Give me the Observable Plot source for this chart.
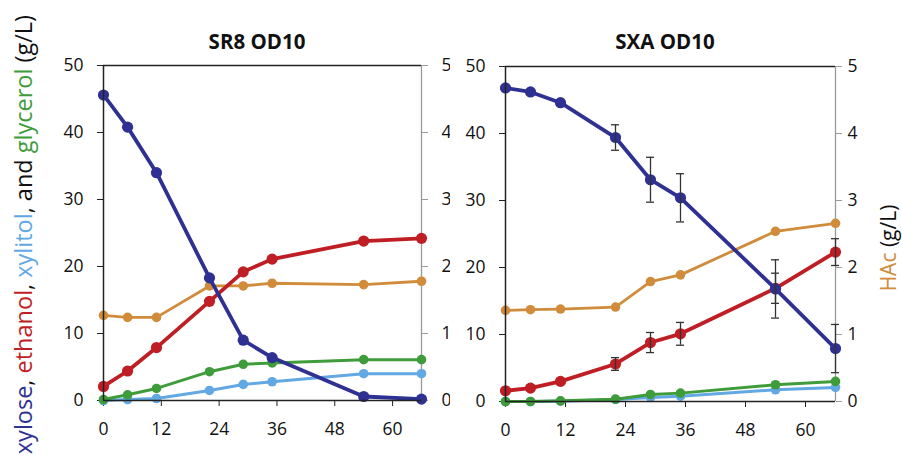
<!DOCTYPE html>
<html><head><meta charset="utf-8">
<script src="https://cdn.jsdelivr.net/npm/d3@7"></script>
<script src="https://cdn.jsdelivr.net/npm/@observablehq/plot@0.6"></script>
<style>
body{margin:0;background:#fff;}
#wrap{position:relative;width:902px;height:454px;overflow:hidden;background:#fff;}
.panel{position:absolute;top:0;}
</style>
</head><body><div id="wrap"></div>
<script>
// time points (h)
const hours = [0, 5, 11, 22, 29, 35, 54, 66];
const xTicks = [0, 12, 24, 36, 48, 60];
const yTicks = [0, 10, 20, 30, 40, 50];
const hacTicks = [0, 1, 2, 3, 4, 5];

// SR8 OD10 (g/L)
const sr8Xylose   = [45.6, 40.8, 34.0, 18.3, 9.0, 6.4, 0.6, 0.2];
const sr8Ethanol  = [2.1, 4.4, 7.9, 14.8, 19.2, 21.1, 23.8, 24.2];
const sr8Xylitol  = [0.0, 0.15, 0.3, 1.5, 2.4, 2.8, 4.0, 4.0];
const sr8Glycerol = [0.15, 0.85, 1.8, 4.3, 5.4, 5.6, 6.1, 6.1];
const sr8HAc      = [1.27, 1.24, 1.24, 1.71, 1.71, 1.75, 1.73, 1.78];

// SXA OD10 (g/L)
const sxaXylose   = [46.8, 46.2, 44.6, 39.4, 33.1, 30.4, 16.8, 7.9];
const sxaXyloseErr= [0, 0, 0, 1.9, 3.35, 3.6, 4.35, 3.6];
const sxaEthanol  = [1.6, 2.0, 3.0, 5.6, 8.8, 10.1, 16.9, 22.3];
const sxaEthanolErr=[0, 0, 0, 0.95, 1.5, 1.7, 2.25, 2.0];
const sxaXylitol  = [0.0, 0.0, 0.05, 0.3, 0.6, 0.8, 1.75, 2.1];
const sxaGlycerol = [0.0, 0.0, 0.1, 0.35, 1.05, 1.25, 2.5, 3.0];
const sxaHAc      = [1.36, 1.37, 1.38, 1.41, 1.79, 1.89, 2.54, 2.66];

const C = {xylose:"#2E3192", ethanol:"#BE1E24", xylitol:"#62A8E2", glycerol:"#3F9C3A", hac:"#D08C3A"};
const FONT = "'Open Sans', sans-serif";

function rows(vals, scale = 1, err = null) {
  return hours.map((t, i) => ({t, v: vals[i] * scale, e: err ? err[i] : 0}));
}

function makePanel(cfg) {
  const series = [
    {data: rows(cfg.hac, 10), color: C.hac, w: 2.8, r: 4.8},
    {data: rows(cfg.xylitol), color: C.xylitol, w: 3, r: 4.8},
    {data: rows(cfg.glycerol), color: C.glycerol, w: 3, r: 4.8},
    {data: rows(cfg.ethanol), color: C.ethanol, w: 3.8, r: 5.6},
    {data: rows(cfg.xylose), color: C.xylose, w: 3.8, r: 5.6}
  ];
  const errRows = [];
  if (cfg.xyloseErr) errRows.push(...rows(cfg.xylose, 1, cfg.xyloseErr).filter(d => d.e > 0));
  if (cfg.ethanolErr) errRows.push(...rows(cfg.ethanol, 1, cfg.ethanolErr).filter(d => d.e > 0));

  const marks = [
    Plot.ruleX([66], {stroke: "#9a9a9a", strokeWidth: 1.3}),
    Plot.ruleY([50], {stroke: "#222", strokeWidth: 1.3}),
    Plot.axisY({anchor: "left", ticks: yTicks, tickSize: 6, tickPadding: cfg.padL, stroke: "#222", fill: "#111", label: null, fontSize: 17.5}),
    Plot.axisY({anchor: "right", ticks: yTicks, tickSize: 6, tickPadding: cfg.padR, stroke: "#9a9a9a", fill: "#111", label: null, fontSize: 17.5, tickFormat: (d) => String(hacTicks[yTicks.indexOf(d)])}),
    Plot.axisX({ticks: xTicks, tickSize: 6, tickPadding: 16, stroke: "#222", fill: "#111", label: null, fontSize: 17.5}),
  ];
  for (const s of series) {
    marks.push(Plot.line(s.data, {x: "t", y: "v", stroke: s.color, strokeWidth: s.w, strokeLinejoin: "round"}));
    marks.push(Plot.dot(s.data, {x: "t", y: "v", r: s.r, fill: s.color, stroke: "none"}));
  }
  marks.push(
    Plot.ruleX(errRows, {x: "t", y1: d => d.v - d.e, y2: d => d.v + d.e, stroke: "#333", strokeWidth: 1.3}),
    Plot.ruleY(errRows, {y: d => d.v + d.e, x1: d => d.t - 0.8, x2: d => d.t + 0.8, stroke: "#333", strokeWidth: 1.3}),
    Plot.ruleY(errRows, {y: d => d.v - d.e, x1: d => d.t - 0.8, x2: d => d.t + 0.8, stroke: "#333", strokeWidth: 1.3}),
    Plot.ruleX([0], {stroke: "#222", strokeWidth: 1.5}),
    Plot.ruleY([0], {stroke: "#222", strokeWidth: 1.5})
  );
  const svg = Plot.plot({
    width: cfg.width, height: 454,
    marginLeft: cfg.ml, marginRight: cfg.mr, marginTop: cfg.mt, marginBottom: cfg.mb,
    x: {domain: [0, 66]},
    y: {domain: [0, 50]},
    style: {fontFamily: FONT, fontSize: "17.5px", color: "#111", background: "#fff", overflow: "visible"},
    marks
  });
  const sel = d3.select(svg);
  sel.append("text")
    .attr("x", cfg.titleX).attr("y", 49)
    .attr("text-anchor", "middle")
    .attr("font-family", FONT).attr("font-weight", "bold").attr("font-size", 20.5)
    .attr("fill", "#111")
    .text(cfg.title);
  return svg;
}

const wrap = document.getElementById("wrap");

const left = makePanel({
  title: "SR8 OD10", titleX: 257, width: 451, ml: 103, mr: 30, mt: 65, mb: 54, padL: 14, padR: 14,
  xylose: sr8Xylose, ethanol: sr8Ethanol, xylitol: sr8Xylitol, glycerol: sr8Glycerol, hac: sr8HAc
});
left.classList.add("panel"); left.style.left = "0px";
wrap.appendChild(left);

const right = makePanel({
  title: "SXA OD10", titleX: 215, width: 452, ml: 55, mr: 67, mt: 66, mb: 53, padL: 14, padR: 6,
  xylose: sxaXylose, ethanol: sxaEthanol, xylitol: sxaXylitol, glycerol: sxaGlycerol, hac: sxaHAc,
  xyloseErr: sxaXyloseErr, ethanolErr: sxaEthanolErr
});
right.classList.add("panel"); right.style.left = "450px";
wrap.appendChild(right);

// Left axis title (multi-coloured)
const lt = d3.select(left).append("text")
  .attr("transform", "translate(32,15) rotate(-90)")
  .attr("text-anchor", "end")
  .attr("font-family", FONT).attr("font-size", 23.5).attr("fill", "#111");
[["xylose", C.xylose], [", ", "#111"], ["ethanol", C.ethanol], [", ", "#111"], ["xylitol", C.xylitol], [", and ", "#111"], ["glycerol", C.glycerol], [" (g/L)", "#111"]]
  .forEach(([t, c]) => lt.append("tspan").attr("fill", c).text(t));

// Right axis title
const rt = d3.select(right).append("text")
  .attr("transform", "translate(446,248) rotate(-90)")
  .attr("text-anchor", "middle")
  .attr("font-family", FONT).attr("font-size", 21).attr("fill", "#111");
rt.append("tspan").attr("fill", C.hac).text("HAc");
rt.append("tspan").attr("fill", "#111").text(" (g/L)");
</script>
</body></html>
